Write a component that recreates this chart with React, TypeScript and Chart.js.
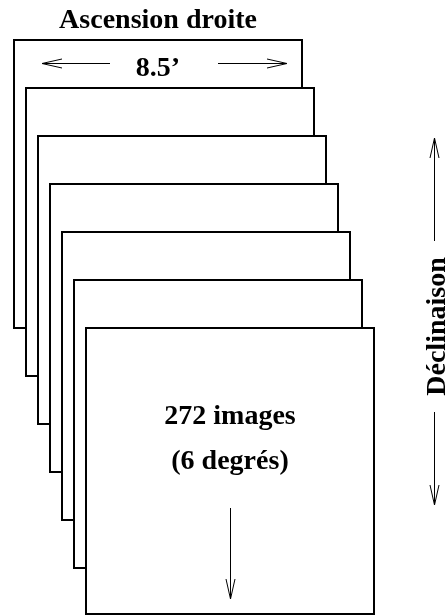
import React, { useEffect, useRef } from "react";
import { Chart, registerables } from "chart.js";

Chart.register(...registerables);

// Diagram data (units = the diagram's own coordinate system, y grows downward)
const frameLeft = [14, 26, 38, 50, 62, 74, 86];
const frameRight = [302, 314, 326, 338, 350, 362, 374];
const frameTop = [40, 88, 136, 184, 232, 280, 328];
const frameBottom = [328, 376, 424, 472, 520, 568, 614];

// Arrows: start point -> tip
const arrowX0 = [110, 218, 434.5, 434.5, 230.5];
const arrowY0 = [63.5, 63.5, 241, 412, 508];
const arrowX1 = [42, 287, 434.5, 434.5, 230.5];
const arrowY1 = [63.5, 63.5, 138, 505, 599];

// Labels
const labelText = ["Ascension droite", "8.5\u2019", "272 images", "(6 degrés)", "Déclinaison"];
const labelX = [158, 158, 230, 230, 445];
const labelY = [28, 76, 424, 469, 326.5];
const labelAngle = [0, 0, 0, 0, -90];

const HEAD_LEN = 20;
const HEAD_HALF = 4.5;

function buildDatasets() {
  const sets: any[] = [];
  const n = frameLeft.length;
  // frames: later (front) frames get lower index so they draw on top
  for (let i = n - 1; i >= 0; i--) {
    let pts;
    if (i === n - 1) {
      pts = [
        { x: frameLeft[i], y: frameTop[i] },
        { x: frameRight[i], y: frameTop[i] },
        { x: frameRight[i], y: frameBottom[i] },
        { x: frameLeft[i], y: frameBottom[i] },
        { x: frameLeft[i], y: frameTop[i] },
      ];
    } else {
      pts = [
        { x: frameRight[i], y: frameTop[i + 1] },
        { x: frameRight[i], y: frameTop[i] },
        { x: frameLeft[i], y: frameTop[i] },
        { x: frameLeft[i], y: frameBottom[i] },
        { x: frameLeft[i + 1], y: frameBottom[i] },
      ];
    }
    sets.push({
      data: pts,
      borderColor: "#000",
      borderWidth: 2,
      pointRadius: 0,
      fill: false,
      tension: 0,
      borderJoinStyle: "miter",
      borderCapStyle: "square",
      clip: false,
    });
  }
  for (let k = 0; k < arrowX0.length; k++) {
    const dx = arrowX1[k] - arrowX0[k];
    const dy = arrowY1[k] - arrowY0[k];
    const len = Math.hypot(dx, dy);
    const ux = dx / len, uy = dy / len;
    const nx = -uy, ny = ux;
    const bx = arrowX1[k] - ux * HEAD_LEN;
    const by = arrowY1[k] - uy * HEAD_LEN;
    sets.push({
      data: [
        { x: arrowX0[k], y: arrowY0[k] },
        { x: arrowX1[k], y: arrowY1[k] },
      ],
      borderColor: "#000",
      borderWidth: 1,
      pointRadius: 0,
      fill: false,
      tension: 0,
      clip: false,
    });
    sets.push({
      data: [
        { x: bx + nx * HEAD_HALF, y: by + ny * HEAD_HALF },
        { x: arrowX1[k], y: arrowY1[k] },
        { x: bx - nx * HEAD_HALF, y: by - ny * HEAD_HALF },
      ],
      borderColor: "#000",
      borderWidth: 1,
      pointRadius: 0,
      fill: false,
      tension: 0,
      borderJoinStyle: "miter",
      clip: false,
    });
  }
  return sets;
}

const labelPlugin = {
  id: "diagramLabels",
  afterDatasetsDraw(chart: any) {
    const { ctx, scales } = chart;
    ctx.save();
    ctx.fillStyle = "#000";
    ctx.font = 'bold 28px "Liberation Serif", "Times New Roman", serif';
    ctx.textAlign = "center";
    ctx.textBaseline = "alphabetic";
    for (let i = 0; i < labelText.length; i++) {
      const px = scales.x.getPixelForValue(labelX[i]);
      const py = scales.y.getPixelForValue(labelY[i]);
      ctx.save();
      ctx.translate(px, py);
      ctx.rotate((labelAngle[i] * Math.PI) / 180);
      ctx.fillText(labelText[i], 0, 0);
      ctx.restore();
    }
    ctx.restore();
  },
};

export default function App() {
  const canvasRef = useRef<HTMLCanvasElement | null>(null);
  useEffect(() => {
    if (!canvasRef.current) return;
    const chart = new Chart(canvasRef.current, {
      type: "line",
      data: { datasets: buildDatasets() },
      options: {
        animation: false,
        responsive: false,
        maintainAspectRatio: false,
        devicePixelRatio: 1,
        events: [],
        layout: { padding: 0 },
        plugins: {
          legend: { display: false },
          tooltip: { enabled: false },
          title: { display: false },
        },
        scales: {
          x: { type: "linear", min: 0, max: 446, display: false },
          y: { type: "linear", min: 0, max: 616, reverse: true, display: false },
        },
      },
      plugins: [labelPlugin],
    });
    return () => chart.destroy();
  }, []);
  return (
    <div style={{ position: "absolute", left: 0, top: 0, width: 446, height: 616, background: "#fff" }}>
      <canvas ref={canvasRef} width={446} height={616} style={{ display: "block" }} />
    </div>
  );
}
